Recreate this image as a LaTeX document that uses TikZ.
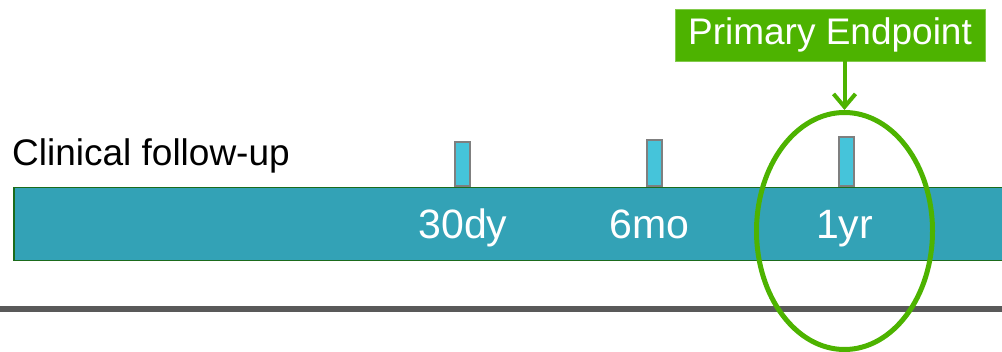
\documentclass[tikz,border=0pt]{standalone}
\usepackage{fontspec}
\setmainfont{Liberation Sans}
\usetikzlibrary{shapes.geometric,arrows.meta}
\definecolor{barfill}{HTML}{33A2B6}
\definecolor{tickfill}{HTML}{45C4DA}
\definecolor{pgreen}{HTML}{4DB300}
\definecolor{barline}{HTML}{1B6B1B}
\definecolor{rule}{HTML}{595959}
\definecolor{tickline}{HTML}{7F7F7F}
\tikzset{
  tickbox/.style={draw=tickline, line width=1.5pt, fill=tickfill, inner sep=0pt, minimum width=15pt, anchor=south},
  barlabel/.style={text=white, font=\fontsize{41}{44}\selectfont, anchor=base},
  endpointbox/.style={fill=pgreen, draw=pgreen!70!white, line width=0.8pt, text=white, font=\fontsize{37}{40}\selectfont, inner sep=0pt, minimum width=310pt, minimum height=52pt},
}
\begin{document}
\begin{tikzpicture}[x=1pt,y=-1pt]
\clip (0,0) rectangle (1002,352);
\useasboundingbox (0,0) rectangle (1002,352);
% title
\node[anchor=base west, inner sep=0pt, font=\fontsize{37}{40}\selectfont] (title) at (12,166) {Clinical follow-up};
% bar
\node[draw=barline, line width=1.5pt, fill=barfill, inner sep=0pt, minimum width=1000pt, minimum height=73pt, anchor=north west] (bar) at (13,187) {};
% ticks
\node[tickbox, minimum height=44pt] (t1) at (462.5,187) {};
\node[tickbox, minimum height=46pt] (t2) at (654.5,187) {};
\node[tickbox, minimum height=49pt] (t3) at (846.5,187) {};
% labels
\node[barlabel] (l1) at (463,239) {30dy};
\node[barlabel] (l2) at (649.5,239) {6mo};
\node[barlabel] (l3) at (844.5,239) {1yr};
% gray rule
\coordinate (r0) at (0,309);
\coordinate (r1) at (1002,309);
\draw[rule, line width=6pt] (r0) -- (r1);
% ellipse
\node[ellipse, draw=pgreen, line width=5pt, minimum width=176pt, minimum height=237pt, inner sep=0pt] (ell) at (844.5,231) {};
% endpoint box
\node[endpointbox] (ep) at (830,35) {Primary Endpoint};
\draw[pgreen, line width=4pt, -{Straight Barb[length=13pt,width=22pt,line width=4pt]}] (ep.south -| ell.north) -- (ell.north);
\end{tikzpicture}
\end{document}
